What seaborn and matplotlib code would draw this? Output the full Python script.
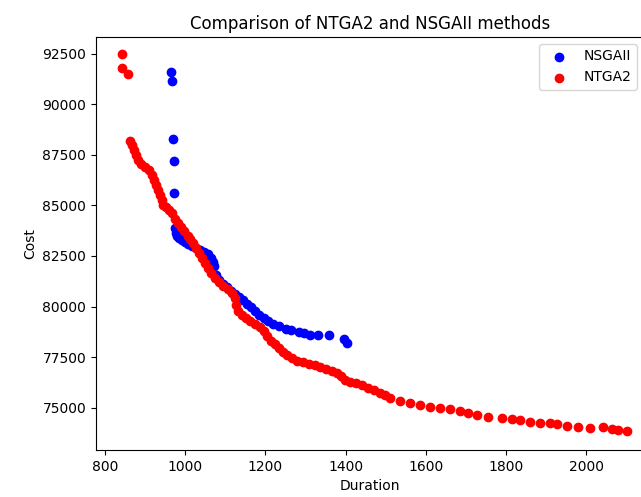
import matplotlib
matplotlib.use("Agg")
import pandas as pd
import seaborn as sns
from matplotlib import pyplot as plt

# NSGAII front (duration, cost)
nsga_duration = [965, 967, 970, 972, 972, 975, 977, 980, 985, 992, 1000, 1007, 1017, 1027,
                 1037, 1047, 1057, 1064, 1069, 1072, 1077, 1084, 1094, 1104, 1114, 1124,
                 1134, 1144, 1154, 1164, 1174, 1184, 1197, 1207, 1219, 1234, 1251, 1264,
                 1284, 1296, 1311, 1331, 1359, 1396, 1404]
nsga_cost = [91594, 91149, 88282, 87194, 85613, 83883, 83650, 83470, 83390, 83300, 83200,
             83100, 83000, 82900, 82800, 82700, 82600, 82400, 82202, 82004, 81559, 81312,
             81114, 80966, 80768, 80620, 80472, 80324, 80126, 79977, 79780, 79582, 79434,
             79285, 79137, 79038, 78890, 78840, 78741, 78692, 78593, 78593, 78593, 78395,
             78198]

# NTGA2 front (duration, cost)
ntga_duration = [842, 842, 857, 862, 867, 872, 877, 882, 890, 900, 910, 917, 922, 927, 932,
                 937, 942, 945, 952, 960, 967, 975, 982, 990, 997, 1007, 1012, 1019, 1027,
                 1034, 1042, 1049, 1057, 1064, 1074, 1084, 1094, 1107, 1117, 1124, 1127,
                 1132, 1142, 1152, 1162, 1174, 1187, 1197, 1204, 1214, 1224, 1234, 1244,
                 1254, 1266, 1279, 1294, 1309, 1324, 1336, 1351, 1366, 1379, 1389, 1399,
                 1411, 1426, 1441, 1456, 1471, 1486, 1498, 1511, 1536, 1561, 1586, 1611,
                 1635, 1660, 1685, 1705, 1728, 1755, 1790, 1815, 1835, 1860, 1885, 1910,
                 1927, 1952, 1980, 2010, 2042, 2064, 2079, 2102]
ntga_cost = [92484, 91792, 91495, 88183, 87985, 87738, 87490, 87243, 87045, 86897, 86749,
             86502, 86254, 86007, 85760, 85513, 85265, 85018, 84919, 84771, 84622, 84326,
             84128, 83930, 83732, 83487, 83339, 83142, 82895, 82647, 82400, 82153, 81906,
             81659, 81411, 81214, 81016, 80867, 80670, 80420, 80074, 79778, 79580, 79432,
             79283, 79135, 78987, 78789, 78542, 78295, 78146, 77949, 77751, 77603, 77454,
             77306, 77257, 77158, 77109, 77010, 76911, 76812, 76713, 76567, 76369, 76270,
             76221, 76122, 75974, 75875, 75727, 75628, 75479, 75346, 75247, 75133, 75049,
             74985, 74936, 74852, 74738, 74639, 74540, 74491, 74441, 74392, 74308, 74244,
             74259, 74194, 74110, 74046, 74011, 74046, 73947, 73898, 73848]


def main():
    nsga = pd.DataFrame({"Duration": nsga_duration, "Cost": nsga_cost})
    ntga = pd.DataFrame({"Duration": ntga_duration, "Cost": ntga_cost})

    fig = plt.figure(figsize=(6.41, 4.97), dpi=100)
    ax = fig.add_axes([96 / 641, 47 / 497, 548 / 641, 413 / 497])

    sns.scatterplot(data=nsga, x="Duration", y="Cost", color="blue", label="NSGAII",
                    s=36, edgecolor="face", linewidth=1, ax=ax)
    sns.scatterplot(data=ntga, x="Duration", y="Cost", color="red", label="NTGA2",
                    s=36, edgecolor="face", linewidth=1, ax=ax)

    ax.set_xlim(778, 2144)
    ax.set_ylim(72910, 93325)
    ax.set_title("Comparison of NTGA2 and NSGAII methods")
    ax.set_xlabel("Duration")
    ax.set_ylabel("Cost")
    ax.legend(loc="upper right")

    plt.savefig("out.png", dpi=100)
    plt.close()


if __name__ == '__main__':
    main()
